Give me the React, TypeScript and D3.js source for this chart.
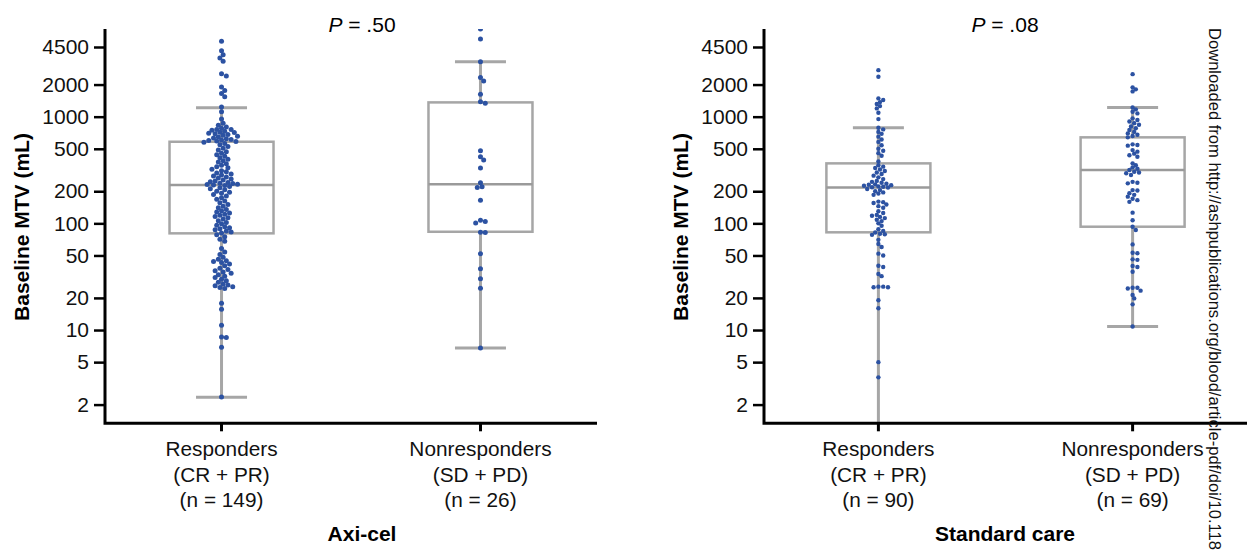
import React, { useEffect, useRef } from "react";
import { select, scaleLog, scalePoint, axisLeft, line } from "d3";

// categories and labels
const categories = ["Responders", "Nonresponders"];
const categoryLines = ["(CR + PR)", "(SD + PD)"];
const axiCounts = ["(n = 149)", "(n = 26)"];
const socCounts = ["(n = 90)", "(n = 69)"];
const panelTitles = ["Axi-cel", "Standard care"];
const pValues = [".50", ".08"];
const yTicks = [2, 5, 10, 20, 50, 100, 200, 500, 1000, 2000, 4500];

// baseline MTV (mL)
const axiResponders = [
  5100, 4150, 3800, 3550, 3300, 2520, 2400, 1900, 1760, 1650, 1540, 1230, 1110,
  950, 870, 830, 800, 780, 760, 745, 730, 715, 700, 690, 680, 668, 655, 645, 632, 620, 612, 604, 598, 592, 586, 760, 710,
  575, 560, 545, 525, 505, 488, 470, 455, 440, 425, 412, 398, 386, 375, 362, 350, 340, 332, 322, 312, 304, 296, 290,
  284, 278, 272, 266, 260, 255, 250, 246, 242, 238, 236, 233, 231, 229,
  226, 221, 216, 211, 206, 200, 196, 191, 186, 180, 174, 168, 162, 156, 150, 145, 140, 135, 131, 128, 125, 122, 119,
  116, 113, 110, 106, 102, 99, 96, 93, 91, 89, 87, 85, 83, 81,
  78, 75, 71, 68, 58, 54, 51, 48, 46, 44.5, 44, 43, 41.5, 40, 38, 37, 36, 35, 34, 33, 32, 31, 30, 29, 28, 27, 26.5,
  26, 25.5, 25, 24.5, 17.8, 15.7, 11.1, 8.6, 8.5, 6.9, 2.36
];
const axiNonresponders = [
  6620, 5335, 3270, 2335, 2158, 1619, 1380, 1334, 479, 421, 392, 330, 240, 220, 217, 165, 107, 104, 101, 82.4, 82,
  51.9, 37.6, 30.3, 24.6, 6.78
];
const socResponders = [
  2730, 2366, 1484, 1432, 1370, 1313, 1257, 1196, 1089, 949,
  787, 760, 720, 690, 650, 610, 580, 540, 500, 480, 455, 430,
  380, 350, 340, 330, 320, 310, 300, 290, 280, 270, 260, 250, 245, 240, 235, 232, 230, 228, 225, 222, 220, 218,
  217,
  210, 205, 200, 195, 190, 185, 160, 158, 155, 150, 145, 140, 130, 125, 120, 118, 115, 112, 108, 105, 100, 95, 88, 85, 82,
  80, 79, 78, 70, 64, 60, 52, 50, 40, 39, 33.5, 32, 25.5, 25.5, 25.2, 25.2, 19, 16, 5, 3.6
];
const socNonresponders = [
  2505, 1883, 1803, 1726, 1222, 1170, 1111, 1073,
  964, 930, 900, 870, 840, 810, 780, 750, 720, 697,
  676, 660, 640, 550, 542, 535, 486, 470, 450, 435, 421,
  365, 350, 335, 325, 316, 305, 300, 295, 284,
  245, 240, 237, 205, 203, 192, 185, 178, 170, 165, 159,
  126, 107, 93, 86.5, 63.5, 53, 52.5, 46, 45.5, 39.8, 39, 35.2, 24.9, 24.9, 24.5, 23.4, 21.3, 19.8, 17.4, 10.8
];

// box statistics [responders, nonresponders]
const axiWhiskerLow = [2.34, 6.78];
const axiQ1 = [80.6, 83.4];
const axiMedian = [229, 232];
const axiQ3 = [582, 1361];
const axiWhiskerHigh = [1211, 3270];
const socWhiskerLow = [0.5, 10.8];
const socQ1 = [82.4, 93];
const socMedian = [217, 316];
const socQ3 = [365, 640];
const socWhiskerHigh = [787, 1222];

const FONT = "'Liberation Sans', Arial, Helvetica, sans-serif";
const BLUE = "#2c52a2";
const GRAY = "#a6a6a6";

// simple beeswarm so dots don't sit on top of each other
function swarm(values, y, r) {
  const placed = [];
  const sorted = values.map((v) => ({ v, y: y(v) })).sort((a, b) => a.y - b.y);
  const minD = r * 1.7;
  sorted.forEach((p) => {
    let off = 0;
    for (let k = 0; k < 40; k++) {
      const cand = k === 0 ? 0 : (k % 2 ? 1 : -1) * Math.ceil(k / 2) * 1.6;
      const hit = placed.some((q) => Math.hypot(q.dx - cand, q.y - p.y) < minD);
      if (!hit) { off = cand; break; }
    }
    placed.push({ ...p, dx: off });
  });
  return placed;
}

function App() {
  const svgRef = useRef();

  useEffect(() => {
    const svg = select(svgRef.current);
    svg.selectAll("*").remove();

    const y = scaleLog().domain([1, 10000]).range([436.7, 10]);
    const axisTop = 29;
    const axisBottom = 423.3;

    const panels = [
      {
        x0: 105, x1: 597, center: 362, r: 2.5,
        groups: [axiResponders, axiNonresponders], counts: axiCounts,
        low: axiWhiskerLow, q1: axiQ1, med: axiMedian, q3: axiQ3, high: axiWhiskerHigh
      },
      {
        x0: 764, x1: 1247, center: 1005, r: 2.2,
        groups: [socResponders, socNonresponders], counts: socCounts,
        low: socWhiskerLow, q1: socQ1, med: socMedian, q3: socQ3, high: socWhiskerHigh
      }
    ];

    svg.append("defs").append("clipPath").attr("id", "plotclip")
      .append("rect").attr("x", 0).attr("y", axisTop).attr("width", 1250).attr("height", axisBottom - axisTop);

    panels.forEach((p, pi) => {
      const x = scalePoint().domain(categories).range([p.x0, p.x1]).padding(0.45);
      const g = svg.append("g");

      // boxes
      const boxes = g.append("g").attr("clip-path", "url(#plotclip)");
      categories.forEach((c, i) => {
        const cx = x(c);
        const bw = 104;
        const cap = 51;
        boxes.append("line").attr("x1", cx).attr("x2", cx)
          .attr("y1", y(p.high[i])).attr("y2", y(p.q3[i]))
          .attr("stroke", GRAY).attr("stroke-width", 3);
        boxes.append("line").attr("x1", cx).attr("x2", cx)
          .attr("y1", y(p.q1[i])).attr("y2", y(p.low[i]))
          .attr("stroke", GRAY).attr("stroke-width", 3);
        [p.high[i], p.low[i]].forEach((v) => {
          boxes.append("line").attr("x1", cx - cap / 2).attr("x2", cx + cap / 2)
            .attr("y1", y(v)).attr("y2", y(v))
            .attr("stroke", GRAY).attr("stroke-width", 3);
        });
        boxes.append("rect").attr("x", cx - bw / 2).attr("width", bw)
          .attr("y", y(p.q3[i])).attr("height", y(p.q1[i]) - y(p.q3[i]))
          .attr("fill", "none").attr("stroke", GRAY).attr("stroke-width", 2.5);
        boxes.append("line").attr("x1", cx - bw / 2).attr("x2", cx + bw / 2)
          .attr("y1", y(p.med[i])).attr("y2", y(p.med[i]))
          .attr("stroke", "#9a9a9a").attr("stroke-width", 2.5);

        // points
        boxes.append("g").selectAll("circle")
          .data(swarm(p.groups[i], y, p.r))
          .join("circle")
          .attr("cx", (d) => cx + d.dx)
          .attr("cy", (d) => d.y)
          .attr("r", p.r)
          .attr("fill", BLUE);
      });

      // y axis
      const ax = g.append("g").attr("transform", `translate(${p.x0},0)`)
        .call(axisLeft(y).tickValues(yTicks).tickFormat((d) => String(d)).tickSize(11).tickPadding(5));
      ax.select(".domain").remove();
      ax.selectAll(".tick line").attr("stroke", "#000").attr("stroke-width", 2.5);
      ax.selectAll(".tick text").attr("font-family", FONT).attr("font-size", 21).attr("fill", "#111");

      const axisPath = line();
      g.append("path")
        .attr("d", axisPath([[p.x0, axisTop], [p.x0, axisBottom], [p.x1, axisBottom]]))
        .attr("fill", "none").attr("stroke", "#000").attr("stroke-width", 3);

      // x ticks and labels
      categories.forEach((c, i) => {
        const cx = x(c);
        g.append("line").attr("x1", cx).attr("x2", cx)
          .attr("y1", axisBottom).attr("y2", axisBottom + 8)
          .attr("stroke", "#000").attr("stroke-width", 3);
        const t = g.append("text").attr("text-anchor", "middle")
          .attr("font-family", FONT).attr("font-size", 20.8).attr("fill", "#111");
        [c, categoryLines[i], p.counts[i]].forEach((s, k) => {
          t.append("tspan").attr("x", cx).attr("y", 456 + k * 25.5).text(s);
        });
      });

      // y label
      g.append("text")
        .attr("transform", `translate(${p.x0 - 76},227) rotate(-90)`)
        .attr("text-anchor", "middle").attr("font-family", FONT)
        .attr("font-size", 21).attr("font-weight", "bold").attr("fill", "#000")
        .text("Baseline MTV (mL)");

      // P value
      const pt = g.append("text").attr("x", p.center).attr("y", 32)
        .attr("text-anchor", "middle").attr("font-family", FONT)
        .attr("font-size", 21).attr("fill", "#000");
      pt.append("tspan").attr("font-style", "italic").text("P");
      pt.append("tspan").text(` = ${pValues[pi]}`);

      // panel title
      g.append("text").attr("x", p.center).attr("y", 541)
        .attr("text-anchor", "middle").attr("font-family", FONT)
        .attr("font-size", 21).attr("font-weight", "bold").attr("fill", "#000")
        .text(panelTitles[pi]);
    });

    // side watermark, runs down to the bottom edge as in the source
    svg.append("text")
      .attr("transform", "translate(1209,28) rotate(90)")
      .attr("font-family", FONT).attr("font-size", 16.4).attr("fill", "#111")
      .attr("textLength", 522).attr("lengthAdjust", "spacingAndGlyphs")
      .text("Downloaded from http://ashpublications.org/blood/article-pdf/doi/10.118");
  }, []);

  return (
    <div>
      <svg ref={svgRef} width={1250} height={554}
        style={{ position: "absolute", left: 0, top: 0, background: "#fff" }} />
    </div>
  );
}

export default App;
